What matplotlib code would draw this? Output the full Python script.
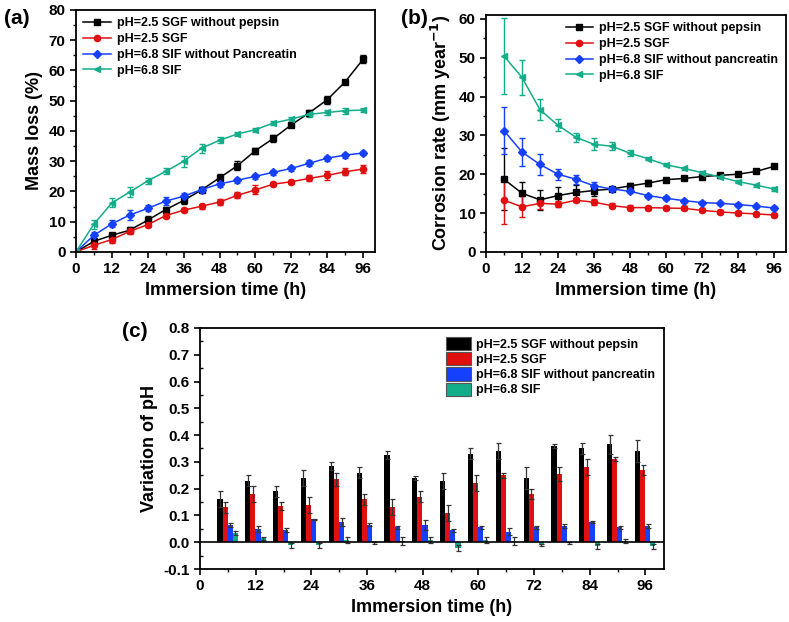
import numpy as np
import matplotlib
matplotlib.use("Agg")
import matplotlib.pyplot as plt
from matplotlib.lines import Line2D
from matplotlib.ticker import MultipleLocator, FormatStrFormatter

plt.rcParams.update({
    "font.family": ["Liberation Sans", "DejaVu Sans"],
    "font.weight": "bold",
    "axes.labelweight": "bold",
    "axes.linewidth": 1.3,
})

BLACK = "#000000"
RED = "#e01010"
BLUE = "#1540ff"
GREEN = "#14ad8a"

# ---------------- data ----------------
t_a = [0, 6, 12, 18, 24, 30, 36, 42, 48, 54, 60, 66, 72, 78, 84, 90, 96]
mass_sgf_np = [0, 3.5, 5.5, 7.2, 10.5, 14.0, 17.0, 20.5, 24.5, 28.5, 33.5, 37.5, 42.0, 46.0, 50.3, 56.2, 63.7]
mass_sgf_np_err = [0, 0.6, 0.8, 1.0, 1.5, 1.0, 1.2, 0.8, 1.2, 1.5, 1.0, 1.3, 0.8, 1.0, 1.3, 0.8, 1.3]
mass_sgf = [0, 2.2, 4.1, 6.8, 9.0, 12.0, 13.8, 15.1, 16.5, 18.7, 20.5, 22.4, 23.2, 24.3, 25.3, 26.5, 27.4]
mass_sgf_err = [0, 1.2, 1.0, 1.0, 0.8, 0.7, 0.7, 0.8, 1.0, 1.0, 1.5, 0.7, 0.6, 1.0, 1.5, 1.2, 1.3]
mass_sif_np = [0, 5.5, 9.3, 12.2, 14.4, 16.8, 18.4, 20.6, 22.5, 23.7, 25.0, 26.3, 27.6, 29.3, 31.0, 32.0, 32.7]
mass_sif_np_err = [0, 1.0, 1.2, 1.5, 1.0, 1.2, 1.2, 0.8, 1.0, 0.8, 0.8, 0.8, 0.8, 1.0, 0.8, 0.8, 0.6]
mass_sif = [0, 9.2, 16.2, 19.8, 23.5, 26.6, 30.0, 34.3, 36.9, 39.0, 40.4, 42.6, 43.9, 45.5, 46.1, 46.7, 46.9]
mass_sif_err = [0, 1.5, 1.5, 1.5, 1.0, 1.0, 1.8, 1.5, 1.0, 0.6, 0.6, 0.8, 0.8, 0.8, 0.8, 1.0, 0.8]

t_b = [6, 12, 18, 24, 30, 36, 42, 48, 54, 60, 66, 72, 78, 84, 90, 96]
cr_sgf_np = [18.7, 15.1, 13.4, 14.5, 15.3, 15.8, 16.2, 17.0, 17.7, 18.6, 18.9, 19.4, 19.7, 20.0, 20.7, 22.0]
cr_sgf_np_err = [8.0, 3.0, 2.5, 2.3, 1.8, 1.3, 0.5, 0.7, 0.8, 0.5, 0.5, 0.5, 0.5, 0.5, 0.4, 0.5]
cr_sgf = [13.3, 11.6, 12.5, 12.3, 13.3, 12.8, 11.9, 11.4, 11.4, 11.3, 11.2, 10.7, 10.3, 10.0, 9.8, 9.5]
cr_sgf_err = [6.0, 2.7, 1.5, 0.7, 0.5, 0.7, 0.6, 0.6, 0.5, 0.5, 0.5, 0.3, 0.5, 0.5, 0.5, 0.5]
cr_sif_np = [31.2, 25.7, 22.5, 20.0, 18.7, 17.0, 16.2, 15.6, 14.5, 13.8, 13.2, 12.7, 12.5, 12.2, 11.8, 11.3]
cr_sif_np_err = [6.0, 3.5, 2.6, 1.4, 1.1, 0.9, 0.5, 0.5, 0.5, 0.5, 0.5, 0.4, 0.4, 0.4, 0.4, 0.4]
cr_sif = [50.4, 44.9, 36.6, 32.6, 29.5, 27.7, 27.2, 25.4, 24.0, 22.4, 21.5, 20.4, 19.3, 18.1, 17.2, 16.2]
cr_sif_err = [9.8, 4.5, 2.7, 1.5, 1.1, 1.5, 1.0, 0.8, 0.4, 0.4, 0.4, 0.4, 0.4, 0.4, 0.4, 0.4]

t_c = [6, 12, 18, 24, 30, 36, 42, 48, 54, 60, 66, 72, 78, 84, 90, 96]
ph_sgf_np = [0.16, 0.23, 0.19, 0.24, 0.285, 0.26, 0.325, 0.24, 0.23, 0.33, 0.34, 0.24, 0.36, 0.35, 0.365, 0.34]
ph_sgf_np_err = [0.03, 0.02, 0.02, 0.03, 0.015, 0.02, 0.015, 0.008, 0.03, 0.02, 0.03, 0.04, 0.008, 0.02, 0.035, 0.04]
ph_sgf = [0.13, 0.18, 0.135, 0.14, 0.235, 0.16, 0.13, 0.17, 0.11, 0.22, 0.25, 0.18, 0.255, 0.28, 0.31, 0.27]
ph_sgf_err = [0.02, 0.03, 0.015, 0.03, 0.025, 0.02, 0.03, 0.02, 0.03, 0.03, 0.01, 0.02, 0.025, 0.03, 0.007, 0.02]
ph_sif_np = [0.065, 0.05, 0.045, 0.085, 0.075, 0.065, 0.055, 0.065, 0.045, 0.055, 0.04, 0.055, 0.06, 0.075, 0.055, 0.06]
ph_sif_np_err = [0.007, 0.01, 0.007, 0.003, 0.015, 0.005, 0.005, 0.018, 0.005, 0.005, 0.012, 0.005, 0.008, 0.005, 0.005, 0.008]
ph_sif = [0.035, 0.015, -0.012, -0.012, 0.008, -0.003, 0.003, 0.008, -0.022, 0.008, 0.003, -0.01, -0.003, -0.015, 0.005, -0.015]
ph_sif_err = [0.007, 0.005, 0.008, 0.008, 0.01, 0.003, 0.015, 0.01, 0.01, 0.01, 0.015, 0.005, 0.003, 0.01, 0.008, 0.01]

labels_a = ["pH=2.5 SGF without pepsin", "pH=2.5 SGF",
            "pH=6.8 SIF without Pancreatin", "pH=6.8 SIF"]
labels_b = ["pH=2.5 SGF without pepsin", "pH=2.5 SGF",
            "pH=6.8 SIF without pancreatin", "pH=6.8 SIF"]
colors = [BLACK, RED, BLUE, GREEN]
markers = ["s", "o", "D", "<"]

fig = plt.figure(figsize=(7.89, 6.22), dpi=100)
ax_a = fig.add_axes([0.0963, 0.595, 0.379, 0.389])
ax_b = fig.add_axes([0.616, 0.595, 0.380, 0.381])
ax_c = fig.add_axes([0.2535, 0.0852, 0.588, 0.3875])

LEG = {"weight": "bold", "size": 9.0}


def style_ticks(ax):
    ax.tick_params(which="major", direction="out", length=4, width=1.2, labelsize=11)
    ax.tick_params(which="minor", direction="out", length=2.5, width=1.0)
    for lab in ax.get_xticklabels() + ax.get_yticklabels():
        lab.set_fontweight("bold")


def line_handles(labels):
    return [Line2D([], [], color=c, marker=m, ms=4.5, lw=1.1, label=l)
            for c, m, l in zip(colors, markers, labels)]


# ---------------- (a) ----------------
series_a = [(mass_sgf_np, mass_sgf_np_err), (mass_sgf, mass_sgf_err),
            (mass_sif_np, mass_sif_np_err), (mass_sif, mass_sif_err)]
for (y, e), c, m in zip(series_a, colors, markers):
    ax_a.errorbar(t_a, y, yerr=e, color=c, marker=m, ms=4.5, lw=1.1,
                  capsize=2.5, elinewidth=1.0, capthick=1.0)
ax_a.set_xlim(0, 100)
ax_a.set_ylim(0, 80)
ax_a.xaxis.set_major_locator(MultipleLocator(12))
ax_a.xaxis.set_minor_locator(MultipleLocator(6))
ax_a.yaxis.set_major_locator(MultipleLocator(10))
ax_a.yaxis.set_minor_locator(MultipleLocator(5))
ax_a.set_xlabel("Immersion time (h)", fontsize=13, fontweight="bold")
ax_a.set_ylabel("Mass loss (%)", fontsize=13, fontweight="bold")
style_ticks(ax_a)
ax_a.legend(handles=line_handles(labels_a), loc="upper left", frameon=False,
            handlelength=2.2, handletextpad=0.5, borderaxespad=0.2,
            labelspacing=0.3, prop=LEG)
fig.text(0.005, 0.985, "(a)", fontsize=15, fontweight="bold", va="top", ha="left")

# ---------------- (b) ----------------
series_b = [(cr_sgf_np, cr_sgf_np_err), (cr_sgf, cr_sgf_err),
            (cr_sif_np, cr_sif_np_err), (cr_sif, cr_sif_err)]
for (y, e), c, m in zip(series_b, colors, markers):
    ax_b.errorbar(t_b, y, yerr=e, color=c, marker=m, ms=4.5, lw=1.1,
                  capsize=2.5, elinewidth=1.0, capthick=1.0)
ax_b.set_xlim(0, 100)
ax_b.set_ylim(0, 61)
ax_b.xaxis.set_major_locator(MultipleLocator(12))
ax_b.xaxis.set_minor_locator(MultipleLocator(6))
ax_b.yaxis.set_major_locator(MultipleLocator(10))
ax_b.yaxis.set_minor_locator(MultipleLocator(5))
ax_b.set_xlabel("Immersion time (h)", fontsize=13, fontweight="bold")
ax_b.set_ylabel(r"Corrosion rate (mm year$^{\mathbf{-1}}$)", fontsize=13, fontweight="bold")
style_ticks(ax_b)
ax_b.legend(handles=line_handles(labels_b), loc="upper right", frameon=False,
            handlelength=2.2, handletextpad=0.5, borderaxespad=0.2,
            labelspacing=0.3, prop=LEG)
fig.text(0.508, 0.985, "(b)", fontsize=15, fontweight="bold", va="top", ha="left")

# ---------------- (c) ----------------
series_c = [(ph_sgf_np, ph_sgf_np_err), (ph_sgf, ph_sgf_err),
            (ph_sif_np, ph_sif_np_err), (ph_sif, ph_sif_err)]
bar_w = 1.1
offsets = [-1.7, -0.6, 0.5, 1.6]
tc = np.array(t_c)
for (y, e), c, off, lab in zip(series_c, colors, offsets, labels_b):
    ax_c.bar(tc + off, y, width=bar_w, color=c, edgecolor="none", label=lab,
             yerr=e, error_kw=dict(ecolor="#333333", elinewidth=0.9, capsize=1.8, capthick=0.9))
ax_c.axhline(0, color="black", lw=1.2)
ax_c.set_xlim(0, 100)
ax_c.set_ylim(-0.1, 0.8)
ax_c.xaxis.set_major_locator(MultipleLocator(12))
ax_c.xaxis.set_minor_locator(MultipleLocator(6))
ax_c.yaxis.set_major_locator(MultipleLocator(0.1))
ax_c.yaxis.set_minor_locator(MultipleLocator(0.05))
ax_c.yaxis.set_major_formatter(FormatStrFormatter("%.1f"))
ax_c.set_xlabel("Immersion time (h)", fontsize=13, fontweight="bold")
ax_c.set_ylabel("Variation of pH", fontsize=13, fontweight="bold")
style_ticks(ax_c)
ax_c.tick_params(axis="y", which="minor", direction="in")
ax_c.legend(loc="upper right", frameon=False, handlelength=2.0, handleheight=1.25,
            handletextpad=0.4, borderaxespad=0.3, labelspacing=0.12, prop=LEG)
for h in ax_c.get_legend().legend_handles:
    h.set_edgecolor("#555555")
    h.set_linewidth(0.8)
fig.text(0.155, 0.483, "(c)", fontsize=15, fontweight="bold", va="top", ha="left")

fig.savefig("out.png", dpi=100)
